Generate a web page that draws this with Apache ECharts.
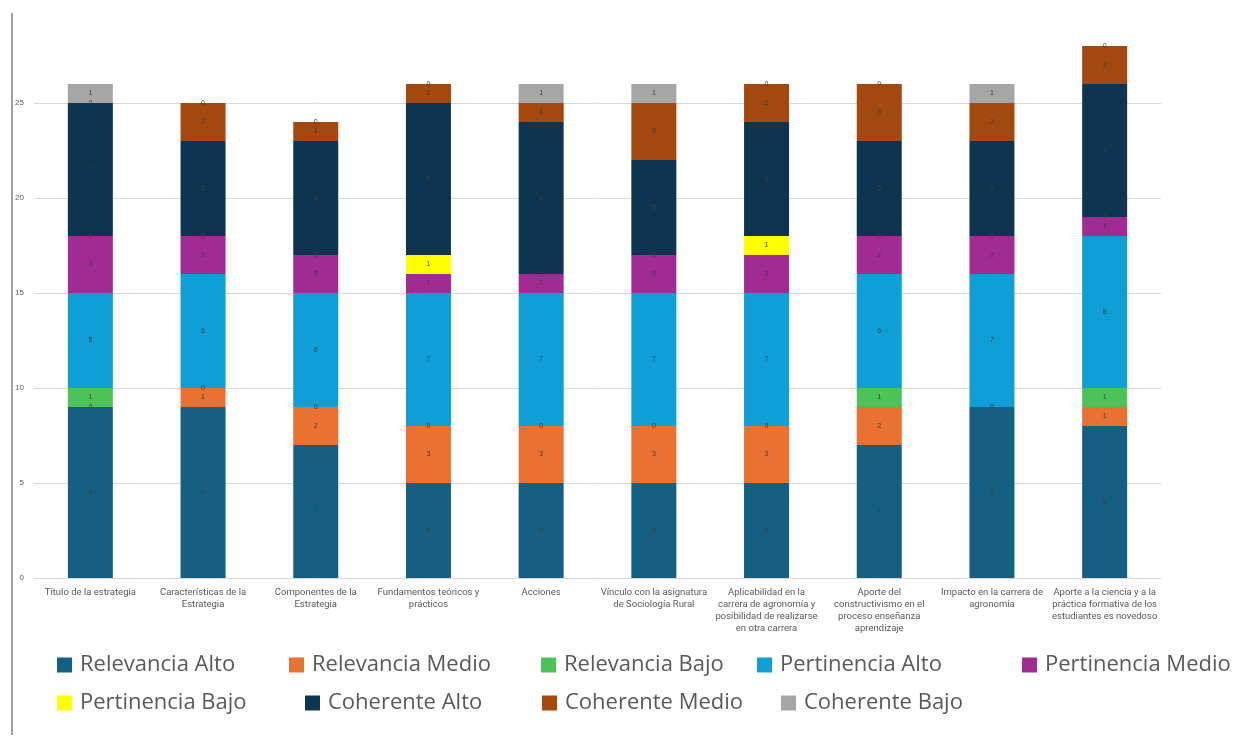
<!DOCTYPE html>
<html>
<head>
<meta charset="utf-8">
<script src="https://cdn.jsdelivr.net/npm/echarts@6/dist/echarts.min.js"></script>
<style>html,body{margin:0;padding:0;background:#fff;}#c{width:1241px;height:740px;}</style>
</head>
<body>
<div id="c"></div>
<script>
const categories = [
  "Título de la estrategia",
  "Características de la\nEstrategia",
  "Componentes de la\nEstrategia",
  "Fundamentos teóricos y\nprácticos",
  "Acciones",
  "Vínculo con la asignatura\nde Sociología Rural",
  "Aplicabilidad en la\ncarrera de agronomía y\nposibilidad de realizarse\nen otra carrera",
  "Aporte del\nconstructivismo en el\nproceso enseñanza\naprendizaje",
  "Impacto en la carrera de\nagronomía",
  "Aporte a la ciencia y a la\npráctica formativa de los\nestudiantes es novedoso"
];
const seriesNames = ["Relevancia Alto","Relevancia Medio","Relevancia Bajo","Pertinencia Alto","Pertinencia Medio","Pertinencia Bajo","Coherente Alto","Coherente Medio","Coherente Bajo"];
const relevanciaAlto   = [9, 9, 7, 5, 5, 5, 5, 7, 9, 8];
const relevanciaMedio  = [0, 1, 2, 3, 3, 3, 3, 2, 0, 1];
const relevanciaBajo   = [1, 0, 0, 0, 0, 0, 0, 1, 0, 1];
const pertinenciaAlto  = [5, 6, 6, 7, 7, 7, 7, 6, 7, 8];
const pertinenciaMedio = [3, 2, 2, 1, 1, 2, 2, 2, 2, 1];
const pertinenciaBajo  = [0, 0, 0, 1, 0, 0, 1, 0, 0, 0];
const coherenteAlto    = [7, 5, 6, 8, 8, 5, 6, 5, 5, 7];
const coherenteMedio   = [0, 2, 1, 1, 1, 3, 2, 3, 2, 2];
const coherenteBajo    = [1, 0, 0, 0, 1, 1, 0, 0, 1, 0];
const yTicks = [0, 5, 10, 15, 20, 25];

const seriesData = [relevanciaAlto, relevanciaMedio, relevanciaBajo, pertinenciaAlto, pertinenciaMedio, pertinenciaBajo, coherenteAlto, coherenteMedio, coherenteBajo];
const colors = ['#156082', '#E97132', '#4CC359', '#0F9ED5', '#A02B93', '#FFFF00', '#0E3450', '#A3480F', '#A6A6A6'];

const legendPos = [
  [57, 651], [289, 651], [541, 651], [757, 651], [1022, 651],
  [57, 689], [305, 689], [542, 689], [781, 689]
];
const legends = seriesNames.map((n, i) => ({
  data: [n],
  left: legendPos[i][0],
  top: legendPos[i][1],
  icon: 'rect',
  itemWidth: 15,
  itemHeight: 15,
  padding: 0,
  textStyle: { fontSize: 22, color: '#595959', fontFamily: "'Open Sans', 'Roboto', sans-serif", lineHeight: 28, padding: [0, 0, 0, 3] }
}));

const chart = echarts.init(document.getElementById('c'));
chart.setOption({
  backgroundColor: '#ffffff',
  animation: false,
  color: colors,
  legend: legends,
  grid: { left: 34, right: 80, top: 8, bottom: 162, containLabel: false },
  xAxis: {
    type: 'category',
    data: categories,
    axisLine: { show: true, lineStyle: { color: '#d9d9d9' } },
    axisTick: { show: false },
    axisLabel: { interval: 0, fontSize: 9.5, color: '#595959', lineHeight: 12, margin: 9, fontFamily: "'Roboto', sans-serif" }
  },
  yAxis: {
    type: 'value',
    min: 0,
    max: 30,
    interval: 5,
    axisLine: { show: false },
    axisTick: { show: false },
    axisLabel: { fontSize: 8, color: '#595959', margin: 10, formatter: v => yTicks.includes(v) ? String(v) : '' },
    splitLine: { lineStyle: { color: ['#d9d9d9', '#d9d9d9', '#d9d9d9', '#d9d9d9', '#d9d9d9', '#d9d9d9', 'rgba(0,0,0,0)'] } }
  },
  graphic: [
    { type: 'line', shape: { x1: 12, y1: 13, x2: 12, y2: 735 }, style: { stroke: '#808080', lineWidth: 1.5 } }
  ],
  series: seriesNames.map((n, i) => ({
    name: n,
    type: 'bar',
    stack: 'total',
    barWidth: 45,
    data: seriesData[i],
    itemStyle: { color: colors[i] },
    label: { show: true, position: 'inside', fontSize: 7, color: '#404040' }
  }))
});
</script>
</body>
</html>
